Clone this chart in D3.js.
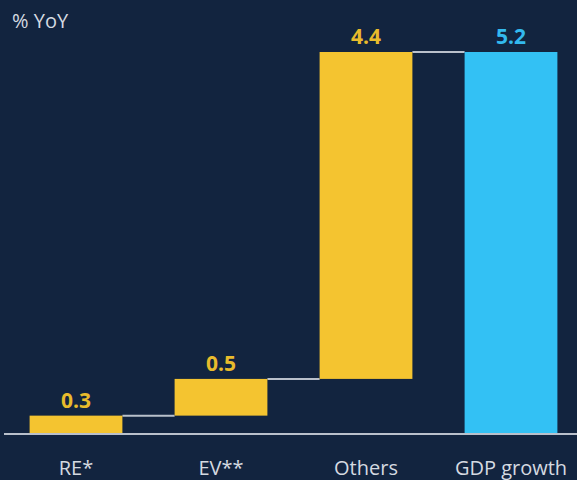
<!DOCTYPE html>
<html><head><meta charset="utf-8">
<script src="https://cdn.jsdelivr.net/npm/d3@7"></script>
<style>html,body{margin:0;padding:0;background:#12243f;}</style>
</head><body>
<svg id="c" width="577" height="480"></svg>
<script>
const categories = ["RE*", "EV**", "Others", "GDP growth"];
const values = [0.25, 0.5, 4.45, 5.2];
const isTotal = [false, false, false, true];
const valueLabels = ["0.3", "0.5", "4.4", "5.2"];
const axisTitle = "% YoY";

const W = 577, H = 480;
const svg = d3.select("#c");
svg.append("rect").attr("width", W).attr("height", H).attr("fill", "#12243f");

const x = d3.scaleBand().domain(categories).range([3.5, 583.5]).paddingInner(0.36).paddingOuter(0.18);
const y = d3.scaleLinear().domain([0, 5.2]).range([434, 52]);

let cum = 0;
const bars = categories.map((c, i) => {
  let y0, y1;
  if (isTotal[i]) { y0 = 0; y1 = values[i]; cum = values[i]; }
  else { y0 = cum; y1 = cum + values[i]; cum = y1; }
  return {c, y0, y1, total: isTotal[i], label: valueLabels[i]};
});

const yellow = "#f4c430", blue = "#33c1f4";

const conn = svg.append("g");
for (let i = 0; i < bars.length - 1; i++) {
  conn.append("line")
    .attr("x1", x(bars[i].c) + x.bandwidth())
    .attr("x2", x(bars[i+1].c))
    .attr("y1", y(bars[i].y1)).attr("y2", y(bars[i].y1))
    .attr("stroke", "#b9c0cb").attr("stroke-width", 2);
}

svg.append("g").selectAll("rect").data(bars).join("rect")
  .attr("x", d => x(d.c))
  .attr("width", x.bandwidth())
  .attr("y", d => y(d.y1))
  .attr("height", d => y(d.y0) - y(d.y1))
  .attr("fill", d => d.total ? blue : yellow);

svg.append("line").attr("x1", 4).attr("x2", 577).attr("y1", y(0)).attr("y2", y(0))
  .attr("stroke", "#b9c0cb").attr("stroke-width", 2);

svg.append("g").selectAll("text").data(bars).join("text")
  .attr("x", d => x(d.c) + x.bandwidth()/2)
  .attr("y", d => y(d.y1) - 8)
  .attr("text-anchor", "middle")
  .attr("font-family", "Open Sans, sans-serif")
  .attr("font-weight", "bold")
  .attr("font-size", 21)
  .attr("fill", d => d.total ? "#33b9ee" : "#e8bb2c")
  .text(d => d.label);

const xAxis = d3.axisBottom(x).tickSize(0).tickPadding(0);
const gx = svg.append("g").attr("transform", `translate(0,${y(0)})`).call(xAxis);
gx.select(".domain").remove();
gx.selectAll("text")
  .attr("y", 41).attr("dy", 0)
  .attr("font-family", "Open Sans, sans-serif")
  .attr("font-size", 20)
  .attr("fill", "#d5dae1");

svg.append("text").attr("x", 12).attr("y", 28)
  .attr("font-family", "Open Sans, sans-serif")
  .attr("font-size", 20).attr("fill", "#d5dae1")
  .text(axisTitle);
</script>
</body></html>
